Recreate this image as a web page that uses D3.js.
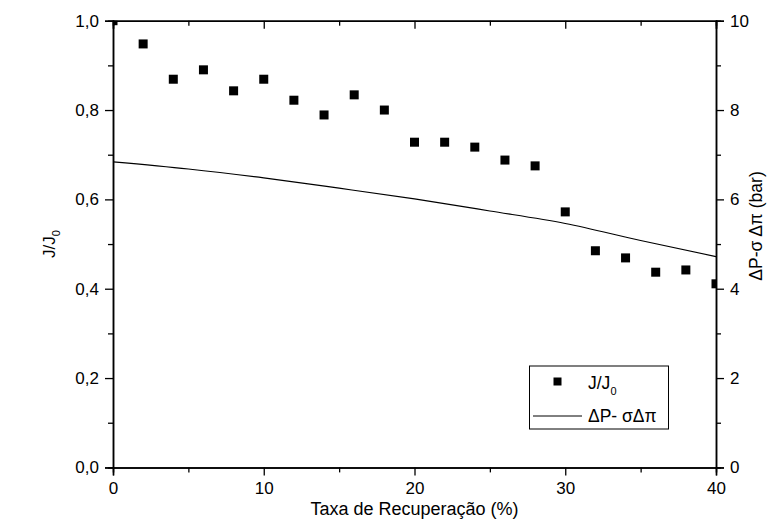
<!DOCTYPE html>
<html><head><meta charset="utf-8">
<script src="https://cdn.jsdelivr.net/npm/d3@7"></script>
<style>body{margin:0;background:#fff}svg{display:block}text{font-family:"Liberation Sans",Arial,sans-serif;fill:#000}</style>
</head><body>
<script>
const recovery = [0,2,4,6,8,10,12,14,16,18,20,22,24,26,28,30,32,34,36,38,40];
const fluxRatio = [1.0,0.948,0.869,0.890,0.843,0.869,0.822,0.789,0.834,0.800,0.728,0.728,0.717,0.688,0.675,0.572,0.485,0.469,0.437,0.442,0.411];
const pressureX = [0,5,10,15,20,25,30,35,40];
const pressureVal = [6.84,6.68,6.48,6.25,6.01,5.74,5.46,5.08,4.72];
const xTicks = [0,10,20,30,40];
const xMinor = [5,15,25,35];
const yLeftTicks = [0,0.2,0.4,0.6,0.8,1.0];
const yLeftMinor = [0.1,0.3,0.5,0.7,0.9];
const yRightTicks = [0,2,4,6,8,10];
const yRightMinor = [1,3,5,7,9];

const W=768,H=526, L=113, R=716, T=20.7, B=467.4;
const svg=d3.select("body").append("svg").attr("width",W).attr("height",H);
const x=d3.scaleLinear().domain([0,40]).range([L,R]);
const yL=d3.scaleLinear().domain([0,1]).range([B,T]);
const yR=d3.scaleLinear().domain([0,10]).range([B,T]);
const fmt=d=>d3.format(".1f")(d).replace(".",",");
const FS=17;

svg.append("clipPath").attr("id","clip").append("rect").attr("x",L).attr("y",T).attr("width",R-L).attr("height",B-T);

function styleAxis(g){g.selectAll("path").attr("stroke","#000").attr("stroke-width",1.5);g.selectAll("line").attr("stroke","#000").attr("stroke-width",1.3);g.selectAll("text").attr("font-size",FS).attr("font-family","'Liberation Sans',Arial,sans-serif");}

// bottom
let g=svg.append("g").attr("transform",`translate(0,${B})`).call(d3.axisBottom(x).tickValues(xTicks).tickSize(8).tickPadding(7).tickFormat(d3.format("d")));styleAxis(g);
g=svg.append("g").attr("transform",`translate(0,${B})`).call(d3.axisBottom(x).tickValues(xMinor).tickSize(5).tickFormat(""));styleAxis(g);
// top (inward)
g=svg.append("g").attr("transform",`translate(0,${T})`).call(d3.axisBottom(x).tickValues(xTicks).tickSize(8).tickFormat(""));styleAxis(g);
g=svg.append("g").attr("transform",`translate(0,${T})`).call(d3.axisBottom(x).tickValues(xMinor).tickSize(5).tickFormat(""));styleAxis(g);
// left
g=svg.append("g").attr("transform",`translate(${L},0)`).call(d3.axisLeft(yL).tickValues(yLeftTicks).tickSize(8).tickPadding(6).tickFormat(fmt));styleAxis(g);
g=svg.append("g").attr("transform",`translate(${L},0)`).call(d3.axisLeft(yL).tickValues(yLeftMinor).tickSize(5).tickFormat(""));styleAxis(g);
// right
g=svg.append("g").attr("transform",`translate(${R},0)`).call(d3.axisRight(yR).tickValues(yRightTicks).tickSize(8).tickPadding(6).tickFormat(d3.format("d")));styleAxis(g);
g=svg.append("g").attr("transform",`translate(${R},0)`).call(d3.axisRight(yR).tickValues(yRightMinor).tickSize(5).tickFormat(""));styleAxis(g);

// data
const plot=svg.append("g").attr("clip-path","url(#clip)");
const pts=recovery.map((r,i)=>({x:r,y:fluxRatio[i]}));
plot.selectAll("rect.pt").data(pts).join("rect").attr("class","pt")
  .attr("x",d=>x(d.x)-4.5).attr("y",d=>yL(d.y)-4.5).attr("width",9).attr("height",9).attr("fill","#000");
const line=d3.line().x(d=>x(d.x)).y(d=>yR(d.y)).curve(d3.curveMonotoneX);
plot.append("path").datum(pressureX.map((p,i)=>({x:p,y:pressureVal[i]})))
  .attr("d",line).attr("fill","none").attr("stroke","#000").attr("stroke-width",1.2);

// labels
svg.append("text").attr("x",(L+R)/2).attr("y",515).attr("text-anchor","middle").attr("font-size",18).text("Taxa de Recuperação (%)");
const yl=svg.append("text").attr("transform",`translate(55,${(T+B)/2}) rotate(-90)`).attr("text-anchor","middle").attr("font-size",FS);
yl.append("tspan").text("J/J");
yl.append("tspan").attr("font-size",11).attr("dy",5).text("0");
svg.append("text").attr("transform",`translate(762,226) rotate(-90)`).attr("text-anchor","middle").attr("font-size",17.5).text("ΔP-σ Δπ (bar)");

// legend
const lg=svg.append("g");
lg.append("rect").attr("x",529.5).attr("y",366).attr("width",139).attr("height",63).attr("fill","#fff").attr("stroke","#000").attr("stroke-width",1);
lg.append("rect").attr("x",553.5).attr("y",377.5).attr("width",8).attr("height",8).attr("fill","#000");
const t1=lg.append("text").attr("x",588).attr("y",389).attr("font-size",17.5);
t1.append("tspan").text("J/J");t1.append("tspan").attr("font-size",11).attr("dy",6).text("0");
lg.append("line").attr("x1",533).attr("x2",582).attr("y1",416).attr("y2",416).attr("stroke","#000").attr("stroke-width",1);
lg.append("text").attr("x",588).attr("y",422).attr("font-size",17.5).text("ΔP- σΔπ");
</script>
</body></html>
